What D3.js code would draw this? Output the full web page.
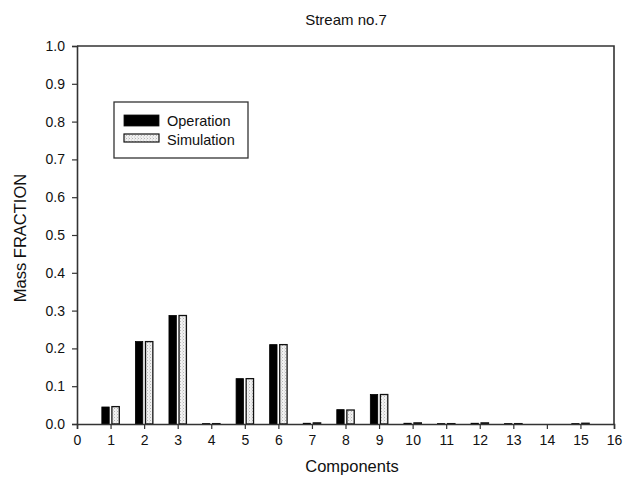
<!DOCTYPE html>
<html>
<head>
<meta charset="utf-8">
<script src="https://cdn.jsdelivr.net/npm/d3@7"></script>
<style>
  html, body { margin: 0; padding: 0; background: #fff; }
  svg { display: block; font-family: "Liberation Sans", Arial, sans-serif; }
</style>
</head>
<body>
<svg id="chart" width="624" height="481"></svg>
<script>
// Component numbers and mass fractions for stream no.7
const components = [1, 2, 3, 4, 5, 6, 7, 8, 9, 10, 11, 12, 13, 14, 15];
const operation  = [0.045, 0.218, 0.287, 0.001, 0.120, 0.210, 0.002, 0.038, 0.078, 0.002, 0.001, 0.002, 0.001, 0.000, 0.001];
const simulation = [0.046, 0.218, 0.287, 0.001, 0.120, 0.210, 0.003, 0.037, 0.078, 0.003, 0.001, 0.003, 0.001, 0.000, 0.002];
const seriesNames = ["Operation", "Simulation"];
const xTicks = d3.range(0, 17);
const yTicks = d3.range(0, 1.01, 0.1);

const svg = d3.select("#chart");
const x0 = 77, x1 = 614, y0 = 424, y1 = 46;

const x = d3.scaleLinear().domain([0, 16]).range([x0, x1]);
const y = d3.scaleLinear().domain([0, 1]).range([y0, y1]);

// stippled fill for the simulation bars
const defs = svg.append("defs");
const pat = defs.append("pattern")
  .attr("id", "stipple").attr("patternUnits", "userSpaceOnUse")
  .attr("width", 3).attr("height", 3);
pat.append("rect").attr("width", 3).attr("height", 3).attr("fill", "#f1f1f1");
pat.append("rect").attr("x", 0).attr("y", 0).attr("width", 1).attr("height", 1).attr("fill", "#b8b8b8");
pat.append("rect").attr("x", 2).attr("y", 1.5).attr("width", 1).attr("height", 1).attr("fill", "#cfcfcf");

// frame (top and right)
svg.append("path")
  .attr("d", `M${x0},${y1}H${x1}V${y0}`)
  .attr("fill", "none").attr("stroke", "#333").attr("stroke-width", 1.6);

// bars
const barW = 0.22, gap = 0.08;
const data = components.map((c, i) => ({ c, op: operation[i], sim: simulation[i] }));

const g = svg.append("g");
g.selectAll("rect.op").data(data).enter().append("rect")
  .attr("class", "op")
  .attr("x", d => x(d.c - gap / 2 - barW))
  .attr("width", x(barW) - x(0))
  .attr("y", d => y(d.op))
  .attr("height", d => y(0) - y(d.op))
  .attr("fill", "#000").attr("stroke", "#000").attr("stroke-width", 0.8);

g.selectAll("rect.sim").data(data).enter().append("rect")
  .attr("class", "sim")
  .attr("x", d => x(d.c + gap / 2))
  .attr("width", x(barW) - x(0))
  .attr("y", d => y(d.sim))
  .attr("height", d => y(0) - y(d.sim))
  .attr("fill", "url(#stipple)").attr("stroke", "#111").attr("stroke-width", 1.3);

// axes
const xAxis = d3.axisBottom(x).tickValues(xTicks).tickFormat(d3.format("d")).tickSizeOuter(0).tickSize(5).tickPadding(6);
const yAxis = d3.axisLeft(y).tickValues(yTicks).tickFormat(d3.format(".1f")).tickSizeOuter(0).tickSize(5).tickPadding(7);

const gx = svg.append("g").attr("transform", `translate(0,${y0})`).call(xAxis);
const gy = svg.append("g").attr("transform", `translate(${x0},0)`).call(yAxis);
[gx, gy].forEach(a => {
  a.select(".domain").attr("stroke", "#333").attr("stroke-width", 1.6);
  a.selectAll(".tick line").attr("stroke", "#333").attr("stroke-width", 1.2);
  a.selectAll(".tick text").attr("fill", "#111").style("font-size", "14px")
    .style("font-family", "'Liberation Sans', Arial, sans-serif");
});

// title and axis labels
svg.append("text").attr("x", 346).attr("y", 25).attr("text-anchor", "middle")
  .style("font-size", "15px").attr("fill", "#111").text("Stream no.7");
svg.append("text").attr("x", 352).attr("y", 472).attr("text-anchor", "middle")
  .style("font-size", "16.5px").attr("fill", "#111").text("Components");
svg.append("text").attr("transform", `translate(26,238) rotate(-90)`).attr("text-anchor", "middle")
  .style("font-size", "16.5px").attr("fill", "#111").text("Mass FRACTION");

// legend
const lg = svg.append("g");
lg.append("rect").attr("x", 114).attr("y", 102).attr("width", 134).attr("height", 56)
  .attr("fill", "#fff").attr("stroke", "#333").attr("stroke-width", 1.3);
const swFill = ["#000", "url(#stipple)"];
seriesNames.forEach((name, i) => {
  const yy = 115 + i * 19;
  lg.append("rect").attr("x", 124).attr("y", yy).attr("width", 35).attr("height", i === 0 ? 11 : 8)
    .attr("fill", swFill[i]).attr("stroke", "#111").attr("stroke-width", i === 0 ? 0.8 : 1.2);
  lg.append("text").attr("x", 167).attr("y", yy + 11).style("font-size", "14.5px")
    .attr("fill", "#111").text(name);
});
</script>
</body>
</html>
